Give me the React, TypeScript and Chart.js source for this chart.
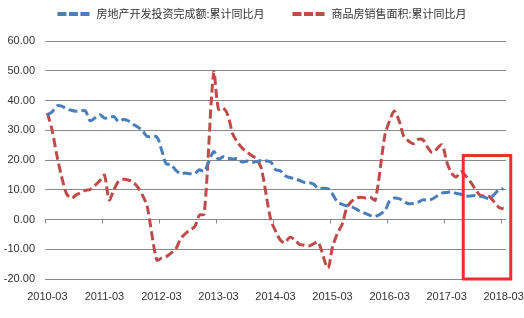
import React, { useEffect, useRef } from 'react';
import { Chart, registerables } from 'chart.js';

Chart.register(...registerables);

// Monthly categories 2010-03 .. 2018-03 (January has no cumulative figure -> null)
const firstYear = 2010;
const lastYear = 2018;
const categories: string[] = [];
for (let y = firstYear; y <= lastYear; y++) {
  for (let m = 1; m <= 12; m++) {
    if ((y === firstYear && m < 3) || (y === lastYear && m > 3)) continue;
    categories.push(`${y}-${String(m).padStart(2, '0')}`);
  }
}

const seriesNames = ['房地产开发投资完成额:累计同比月', '商品房销售面积:累计同比月'];

// 房地产开发投资完成额:累计同比 (%)
const investment: (number | null)[] = [
  35.1, 36.2, 38.2, 38.1, 37.2, 36.7, 36.4, 36.5, 36.5, 33.2,
  null, 35.2, 34.1, 34.3, 34.6, 32.9, 33.6, 33.2, 32.0, 31.1, 29.9, 27.9,
  null, 27.8, 23.5, 18.7, 18.5, 16.6, 15.4, 15.6, 15.4, 15.4, 16.7, 16.2,
  null, 22.8, 20.2, 21.1, 20.6, 20.3, 20.5, 19.3, 19.7, 19.2, 19.5, 19.8,
  null, 19.3, 16.8, 16.4, 14.7, 14.1, 13.7, 13.2, 12.5, 12.4, 11.9, 10.5,
  null, 10.4, 8.5, 6.0, 5.1, 4.6, 4.3, 3.5, 2.6, 2.0, 1.3, 1.0,
  null, 3.0, 6.2, 7.2, 7.0, 6.1, 5.3, 5.4, 5.8, 6.6, 6.5, 6.9,
  null, 8.9, 9.1, 9.3, 8.8, 8.5, 7.9, 7.9, 8.1, 7.8, 7.5, 7.0,
  null, 9.9, 10.4,
];

// 商品房销售面积:累计同比 (%)
const salesArea: (number | null)[] = [
  35.8, 30.0, 21.5, 14.4, 8.8, 7.1, 8.2, 9.0, 9.8, 10.1,
  null, 13.0, 14.9, 6.6, 10.0, 12.9, 13.5, 13.3, 12.6, 10.9, 8.2, 4.4,
  null, -13.6, -13.0, -12.5, -11.3, -10.0, -6.6, -4.8, -3.5, -2.4, 1.5, 1.8,
  null, 49.5, 37.1, 37.5, 35.0, 28.7, 26.0, 24.0, 22.7, 21.5, 20.3, 17.3,
  null, -0.1, -3.8, -6.9, -7.8, -6.0, -6.7, -8.3, -8.6, -8.9, -8.2, -7.6,
  null, -16.3, -9.2, -4.8, -1.7, 3.9, 6.1, 7.2, 7.5, 7.2, 7.4, 6.5,
  null, 28.2, 33.1, 36.5, 33.2, 27.9, 26.4, 25.5, 26.9, 26.8, 24.3, 22.5,
  null, 25.1, 19.5, 15.7, 14.3, 16.1, 14.7, 12.7, 10.3, 8.2, 7.9, 7.7,
  null, 4.1, 3.6,
];

const yMin = -20;
const yMax = 60;
const yStep = 10;

// highlighted region (red box)
const highlightFrom = '2017-07';
const highlightTop = 21.5;
const highlightBottom = -20;

const colors = ['#4a7ebb', '#be4b48'];
const gridColor = '#8a8a8a';
const textColor = '#333333';

const tickMarksPlugin = {
  id: 'zeroTicks',
  beforeDatasetsDraw(chart: any) {
    const xs = chart.scales.x;
    const ys = chart.scales.y;
    const ctx = chart.ctx;
    const y0 = ys.getPixelForValue(0);
    const step = xs.getPixelForValue(1) - xs.getPixelForValue(0);
    ctx.save();
    ctx.strokeStyle = gridColor;
    ctx.lineWidth = 1;
    categories.forEach((c, i) => {
      if (!c.endsWith('-03')) return;
      const x = Math.round(xs.getPixelForValue(i) - step / 2) + 0.5;
      ctx.beginPath();
      ctx.moveTo(x, y0);
      ctx.lineTo(x, y0 + 4);
      ctx.stroke();
    });
    ctx.restore();
  },
};

const highlightPlugin = {
  id: 'highlightBox',
  afterDatasetsDraw(chart: any) {
    const xs = chart.scales.x;
    const ys = chart.scales.y;
    const ctx = chart.ctx;
    const step = xs.getPixelForValue(1) - xs.getPixelForValue(0);
    const idx = categories.indexOf(highlightFrom);
    const left = xs.getPixelForValue(idx) - step / 2;
    const right = xs.getPixelForValue(categories.length - 1) + step * 1.5;
    const top = ys.getPixelForValue(highlightTop);
    const bottom = ys.getPixelForValue(highlightBottom);
    ctx.save();
    ctx.strokeStyle = '#e8302e';
    ctx.lineWidth = 3;
    ctx.strokeRect(left, top, right - left, bottom - top);
    ctx.restore();
  },
};

const legendPlugin = {
  id: 'topLegend',
  afterDraw(chart: any) {
    const ctx = chart.ctx;
    ctx.save();
    ctx.font = '11px "Noto Sans CJK SC", sans-serif';
    const sample = 32;
    const gap = 7;
    const itemGap = 28;
    const items = chart.data.datasets.map((ds: any) => ({
      text: ds.label as string,
      color: ds.borderColor as string,
      w: ctx.measureText(ds.label).width,
    }));
    const total =
      items.reduce((s: number, it: any) => s + sample + gap + it.w, 0) + itemGap * (items.length - 1);
    let x = (chart.width - total) / 2;
    const y = 14;
    items.forEach((it: any) => {
      ctx.strokeStyle = it.color;
      ctx.lineWidth = 4;
      ctx.setLineDash([9, 2.5]);
      ctx.beginPath();
      ctx.moveTo(x, y);
      ctx.lineTo(x + sample, y);
      ctx.stroke();
      ctx.setLineDash([]);
      ctx.fillStyle = textColor;
      ctx.textBaseline = 'middle';
      ctx.textAlign = 'left';
      ctx.fillText(it.text, x + sample + gap, y);
      x += sample + gap + it.w + itemGap;
    });
    ctx.restore();
  },
};

export default function App() {
  const canvasRef = useRef<HTMLCanvasElement | null>(null);

  useEffect(() => {
    document.body.style.margin = '0';
    const canvas = canvasRef.current;
    if (!canvas) return;
    const chart = new Chart(canvas, {
      type: 'line',
      data: {
        labels: categories,
        datasets: [
          {
            label: seriesNames[0],
            data: investment,
            borderColor: colors[0],
            backgroundColor: colors[0],
            borderWidth: 3,
            borderDash: [9, 4],
            pointRadius: 0,
            pointHoverRadius: 0,
            tension: 0.3,
            spanGaps: true,
            fill: false,
          },
          {
            label: seriesNames[1],
            data: salesArea,
            borderColor: colors[1],
            backgroundColor: colors[1],
            borderWidth: 3,
            borderDash: [9, 4],
            pointRadius: 0,
            pointHoverRadius: 0,
            tension: 0.3,
            spanGaps: true,
            fill: false,
          },
        ],
      },
      options: {
        responsive: false,
        animation: false,
        devicePixelRatio: 1,
        layout: { padding: { top: 41, left: 0, right: 18, bottom: 0 } },
        plugins: {
          legend: { display: false },
          tooltip: { enabled: false },
        },
        scales: {
          x: {
            type: 'category',
            offset: true,
            grid: { display: false, drawTicks: false },
            border: { display: false },
            ticks: {
              autoSkip: false,
              maxRotation: 0,
              minRotation: 0,
              padding: 11,
              color: textColor,
              font: { family: '"Liberation Sans", Arial, sans-serif', size: 11 },
              callback: (_v: any, i: number) => (categories[i].endsWith('-03') ? categories[i] : ''),
            },
            afterFit: (s: any) => {
              s.height = 39;
              s.paddingRight = 0;
              s.paddingLeft = 0;
            },
          },
          y: {
            min: yMin,
            max: yMax,
            grid: { color: gridColor, lineWidth: 1, drawTicks: false },
            border: { display: false },
            ticks: {
              stepSize: yStep,
              padding: 10,
              color: textColor,
              font: { family: '"Liberation Sans", Arial, sans-serif', size: 11 },
              callback: (v: any) => Number(v).toFixed(2),
            },
            afterFit: (s: any) => {
              s.width = 45;
            },
          },
        },
      },
      plugins: [tickMarksPlugin, highlightPlugin, legendPlugin],
    });
    return () => chart.destroy();
  }, []);

  return (
    <div style={{ width: 524, height: 318, background: '#fff' }}>
      <canvas ref={canvasRef} width={524} height={318} style={{ display: 'block' }} />
    </div>
  );
}
